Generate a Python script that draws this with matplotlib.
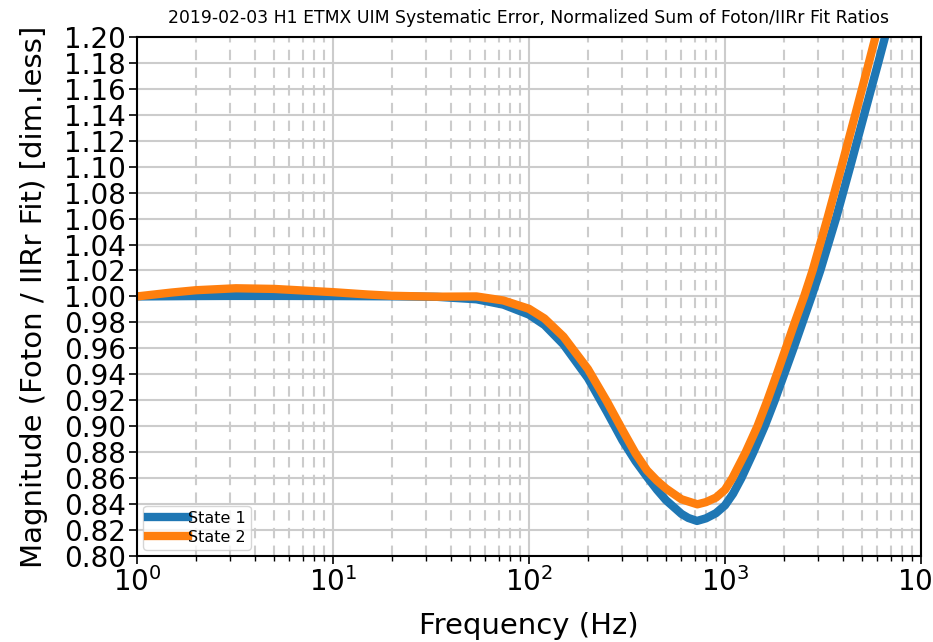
import matplotlib
matplotlib.use('Agg')
import matplotlib.pyplot as plt
import matplotlib.ticker as mtick

# State 1 (blue)
freq_state1 = [1, 2, 3, 5, 10, 20, 34, 54, 74, 100, 120, 150, 200, 250, 300, 350,
               400, 450, 500, 600, 650, 720, 800, 900, 1000, 1100, 1213, 1397, 1595,
               1795, 2004, 2237, 2488, 2766, 3064, 3683, 4355, 5130, 6050, 6560, 7120]
mag_state1 = [1.000, 1.0003, 1.0004, 1.0004, 1.0003, 1.0001, 0.9997, 0.9978, 0.9937,
              0.986, 0.978, 0.963, 0.937, 0.911, 0.889, 0.873, 0.861, 0.851, 0.843,
              0.8324, 0.8293, 0.827, 0.829, 0.833, 0.839, 0.848, 0.86, 0.88, 0.90,
              0.92, 0.94, 0.96, 0.98, 1.00, 1.02, 1.06, 1.10, 1.14, 1.18, 1.20, 1.22]

# State 2 (orange)
freq_state2 = [1, 1.5, 2, 3.2, 5, 10, 15, 20, 34, 54, 74, 100, 120, 150, 200, 250,
               300, 350, 400, 450, 500, 600, 723, 800, 900, 1000, 1091, 1276, 1465,
               1648, 1838, 2043, 2271, 2535, 2800, 3330, 3930, 4620, 5420, 5860, 6330]
mag_state2 = [1.000, 1.003, 1.0048, 1.0063, 1.0058, 1.0033, 1.0015, 1.0005, 0.9998,
              1.000, 0.9969, 0.9905, 0.983, 0.969, 0.944, 0.919, 0.897, 0.879, 0.866,
              0.858, 0.852, 0.8437, 0.8398, 0.8415, 0.845, 0.851, 0.86, 0.88, 0.90,
              0.92, 0.94, 0.96, 0.98, 1.00, 1.02, 1.06, 1.10, 1.14, 1.18, 1.20, 1.22]

labels = ['State 1', 'State 2']
title = '2019-02-03 H1 ETMX UIM Systematic Error, Normalized Sum of Foton/IIRr Fit Ratios'

fig = plt.figure(figsize=(9.33, 6.42), dpi=100)
ax = fig.add_axes([0.1468, 0.134, 0.8403, 0.8085])

ax.semilogx(freq_state1, mag_state1, color='#1f77b4', lw=6, label=labels[0])
ax.semilogx(freq_state2, mag_state2, color='#ff7f0e', lw=6, label=labels[1])

ax.set_xlim(1, 1e4)
ax.set_ylim(0.80, 1.20)
ax.yaxis.set_major_locator(mtick.MultipleLocator(0.02))
ax.yaxis.set_major_formatter(mtick.FormatStrFormatter('%.2f'))

# 网格线
ax.grid(which='major', color='#cccccc', lw=1.5, ls='-')
ax.grid(which='minor', axis='x', color='#cccccc', lw=1.5, ls=(0, (5, 3.5)))

ax.tick_params(which='major', labelsize=20, length=6, width=1.2, direction='out', pad=2)
ax.tick_params(which='minor', length=3.5, width=1.0, direction='out')
for s in ax.spines.values():
    s.set_linewidth(1.5)

ax.set_xlabel('Frequency (Hz)', fontsize=21, labelpad=11)
ax.set_ylabel('Magnitude (Foton / IIRr Fit) [dim.less]', fontsize=21, labelpad=11)
ax.set_title(title, fontsize=12.4, pad=10)

leg = ax.legend(loc='lower left', fontsize=11.5, handlelength=2.5, borderaxespad=0.4,
                handletextpad=0.0, labelspacing=0.25, borderpad=0.3)

fig.savefig('out.png', dpi=100)
